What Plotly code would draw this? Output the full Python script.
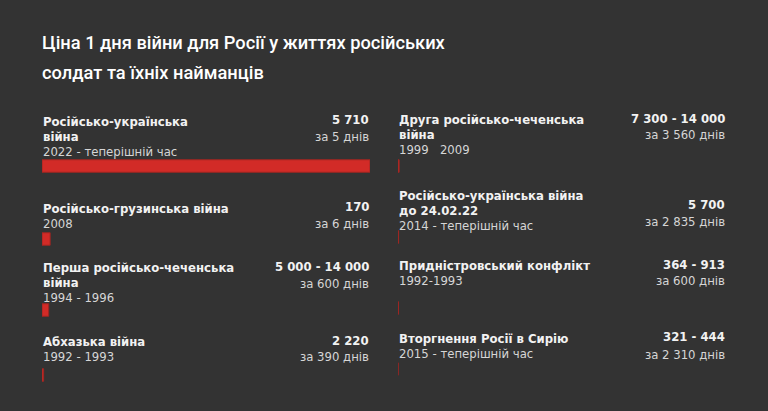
import plotly.graph_objects as go

# ---------------- data ----------------
title_lines = ["Ціна 1 дня війни для Росії у життях російських",
               "солдат та їхніх найманців"]

war_names = [
    ["Російсько-українська", "війна"],
    ["Російсько-грузинська війна"],
    ["Перша російсько-чеченська", "війна"],
    ["Абхазька війна"],
    ["Друга російсько-чеченська", "війна"],
    ["Російсько-українська війна", "до 24.02.22"],
    ["Придністровський конфлікт"],
    ["Вторгнення Росії в Сирію"],
]
periods = ["2022 - теперішній час", "2008", "1994 - 1996", "1992 - 1993",
           "1999 \u00a0 2009", "2014 - теперішній час", "1992-1993",
           "2015 - теперішній час"]
deaths_low = [5710, 170, 5000, 2220, 7300, 5700, 364, 321]
deaths_high = [5710, 170, 14000, 2220, 14000, 5700, 913, 444]
days = [5, 6, 600, 390, 3560, 2835, 600, 2310]

per_day = [h / d for h, d in zip(deaths_high, days)]

# ---------------- layout constants ----------------
W, H = 768, 411
BG = "#333333"
RED = "#d22b27"
RED_EDGE = "#9e2622"
col_x = [(42, 370), (398, 726)]
# pixel centres: label block, value, sub-label, bar
rows = [
    dict(t=137, v=120, s=137, b=166),
    dict(t=216, v=207, s=224, b=239),
    dict(t=283, v=267, s=284, b=310),
    dict(t=349, v=341, s=357, b=375),
    dict(t=135, v=119, s=135, b=166),
    dict(t=211, v=205, s=222, b=237),
    dict(t=273, v=265, s=281, b=308),
    dict(t=346, v=337, s=355, b=369),
]
BAR_H = 12.5
FONT = "DejaVu Sans"
FS = 11.7
TXT = "#f2f2f2"
TXT2 = "#d6d6d6"


def fmt(n):
    return f"{n:,}".replace(",", " ")


def py(p):
    return 1 - p / H


fig = go.Figure()
xmax = max(per_day)

for i in range(len(war_names)):
    col = 0 if i < 4 else 1
    fig.add_trace(go.Bar(
        x=[per_day[i]], y=[rows[i]["b"]], orientation="h", width=BAR_H,
        marker=dict(color=RED, line=dict(color=RED_EDGE, width=1)),
        xaxis="x" if col == 0 else "x2", yaxis="y",
        hoverinfo="skip", showlegend=False,
    ))

annotations = []
for i in range(len(war_names)):
    col = 0 if i < 4 else 1
    x0, x1 = col_x[col]
    r = rows[i]
    block = "<br>".join(f"<b>{ln}</b>" for ln in war_names[i])
    block += f"<br><span style='color:{TXT2}'>{periods[i]}</span>"
    annotations.append(dict(
        text=block, x=x0 / W, y=py(r["t"]), xref="paper", yref="paper",
        xanchor="left", yanchor="middle", align="left", showarrow=False,
        borderpad=0, font=dict(family=FONT, size=FS, color=TXT)))
    if deaths_low[i] == deaths_high[i]:
        vtxt = fmt(deaths_low[i])
    else:
        vtxt = f"{fmt(deaths_low[i])} - {fmt(deaths_high[i])}"
    annotations.append(dict(
        text=f"<b>{vtxt}</b>", x=x1 / W, y=py(r["v"]), xref="paper",
        yref="paper", xanchor="right", yanchor="middle", showarrow=False,
        borderpad=0, font=dict(family=FONT, size=FS, color=TXT)))
    annotations.append(dict(
        text=f"за {fmt(days[i])} днів", x=x1 / W, y=py(r["s"]),
        xref="paper", yref="paper", xanchor="right", yanchor="middle",
        showarrow=False, borderpad=0,
        font=dict(family=FONT, size=FS, color=TXT2)))

for line, yc in zip(title_lines, [43, 72]):
    annotations.append(dict(
        text=line, x=41 / W, y=py(yc), xref="paper", yref="paper",
        xanchor="left", yanchor="middle", showarrow=False, borderpad=0,
        font=dict(family="Roboto", size=18.3, color="#ffffff", weight=500)))

fig.update_layout(
    width=W, height=H,
    margin=dict(l=0, r=0, t=0, b=0),
    paper_bgcolor=BG, plot_bgcolor=BG,
    barmode="overlay",
    xaxis=dict(domain=[col_x[0][0] / W, col_x[0][1] / W], range=[0, xmax],
               visible=False, fixedrange=True),
    xaxis2=dict(domain=[col_x[1][0] / W, col_x[1][1] / W], range=[0, xmax],
                visible=False, fixedrange=True, anchor="y"),
    yaxis=dict(domain=[0, 1], range=[H, 0], visible=False, fixedrange=True),
    annotations=annotations,
)

fig.write_html("out.html")
